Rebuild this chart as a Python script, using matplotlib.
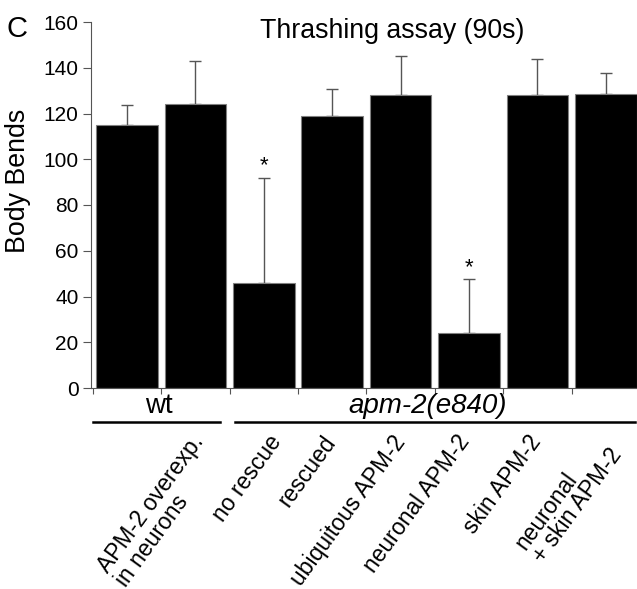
import matplotlib
matplotlib.use("Agg")
import matplotlib.pyplot as plt
import matplotlib.transforms as mtransforms
import numpy as np

plt.rcParams['font.family'] = ['Liberation Sans', 'DejaVu Sans']

# ---- data ----
means = [115, 124, 46, 119, 128, 24, 128, 128.5]
errs = [8.7, 19, 46, 11.5, 17, 23.5, 16, 9]
significant = [False, False, True, False, False, True, False, False]
bar_labels = ["APM-2 overexp.\nin neurons", "no rescue", "rescued",
              "ubiquitous APM-2", "neuronal APM-2", "skin APM-2",
              "neuronal\n+ skin APM-2"]
groups = ["wt", "apm-2(e840)"]
yticks = [0, 20, 40, 60, 80, 100, 120, 140, 160]
title = "Thrashing assay (90s)"
ylabel = "Body Bends"
panel = "C"

W, H = 637, 589
fig = plt.figure(figsize=(W / 100, H / 100), dpi=100)
ax = fig.add_axes([91 / W, 1 - 388 / H, (W - 91) / W, 366 / H])

x = np.arange(len(means))
ax.bar(x, means, width=0.9, color='black', edgecolor='#808080', linewidth=0.8, zorder=2)
ax.errorbar(x, means, yerr=[np.zeros(len(errs)), errs], fmt='none',
            ecolor='#555555', elinewidth=1.0, capsize=4, capthick=1.0, zorder=1)
for xi, m, e, s in zip(x, means, errs, significant):
    if s:
        ax.text(xi, m + e + 5, '*', ha='center', va='center', fontsize=16)

ax.set_xlim(-0.526, 7.456)
ax.set_ylim(0, 160)
ax.set_yticks(yticks)
ax.tick_params(axis='y', labelsize=15, length=6, width=0.8, color='#555555', pad=3, direction='out')
ax.tick_params(axis='x', length=4, width=0.8, color='#555555', direction='out', labelbottom=False)
ax.set_xticks(np.arange(len(means)) - 0.5)
for sp in ['top', 'right']:
    ax.spines[sp].set_visible(False)
for sp in ['left', 'bottom']:
    ax.spines[sp].set_color('#555555')
    ax.spines[sp].set_linewidth(0.8)

trans = mtransforms.blended_transform_factory(ax.transData, ax.transAxes)

# group labels and lines
n_wt = 2
ax.text((n_wt - 1) / 2 - 0.03, -0.048, groups[0], transform=trans, ha='center', va='center', fontsize=20)
ax.text((n_wt + len(means) - 1) / 2 - 0.1, -0.048, groups[1], transform=trans, ha='center', va='center',
        fontsize=20, style='italic')
ax.plot([-0.5, n_wt - 0.64], [-0.092, -0.092], transform=trans, color='black', lw=1.8, clip_on=False)
ax.plot([n_wt - 0.42, len(means) - 0.57], [-0.092, -0.092], transform=trans, color='black', lw=1.8, clip_on=False)

# rotated category labels
offsets = [-0.08, 0.05, -0.15, -0.13, -0.19, -0.15, -0.23]
for i, (lab, off) in enumerate(zip(bar_labels, offsets)):
    ax.text(i + 1 + off, -0.118, lab, transform=trans, ha='right', va='top', rotation=54,
            rotation_mode='anchor', fontsize=16.5, multialignment='left', linespacing=0.95)

fig.text(392 / W, 1 - 38 / H, title, ha='center', va='baseline', fontsize=19.3)
fig.text(7 / W, 1 - 37 / H, panel, ha='left', va='baseline', fontsize=21)
fig.text(18 / W, 1 - 181 / H, ylabel, ha='center', va='center', rotation=90, fontsize=19.3)

fig.savefig("out.png", dpi=100)
